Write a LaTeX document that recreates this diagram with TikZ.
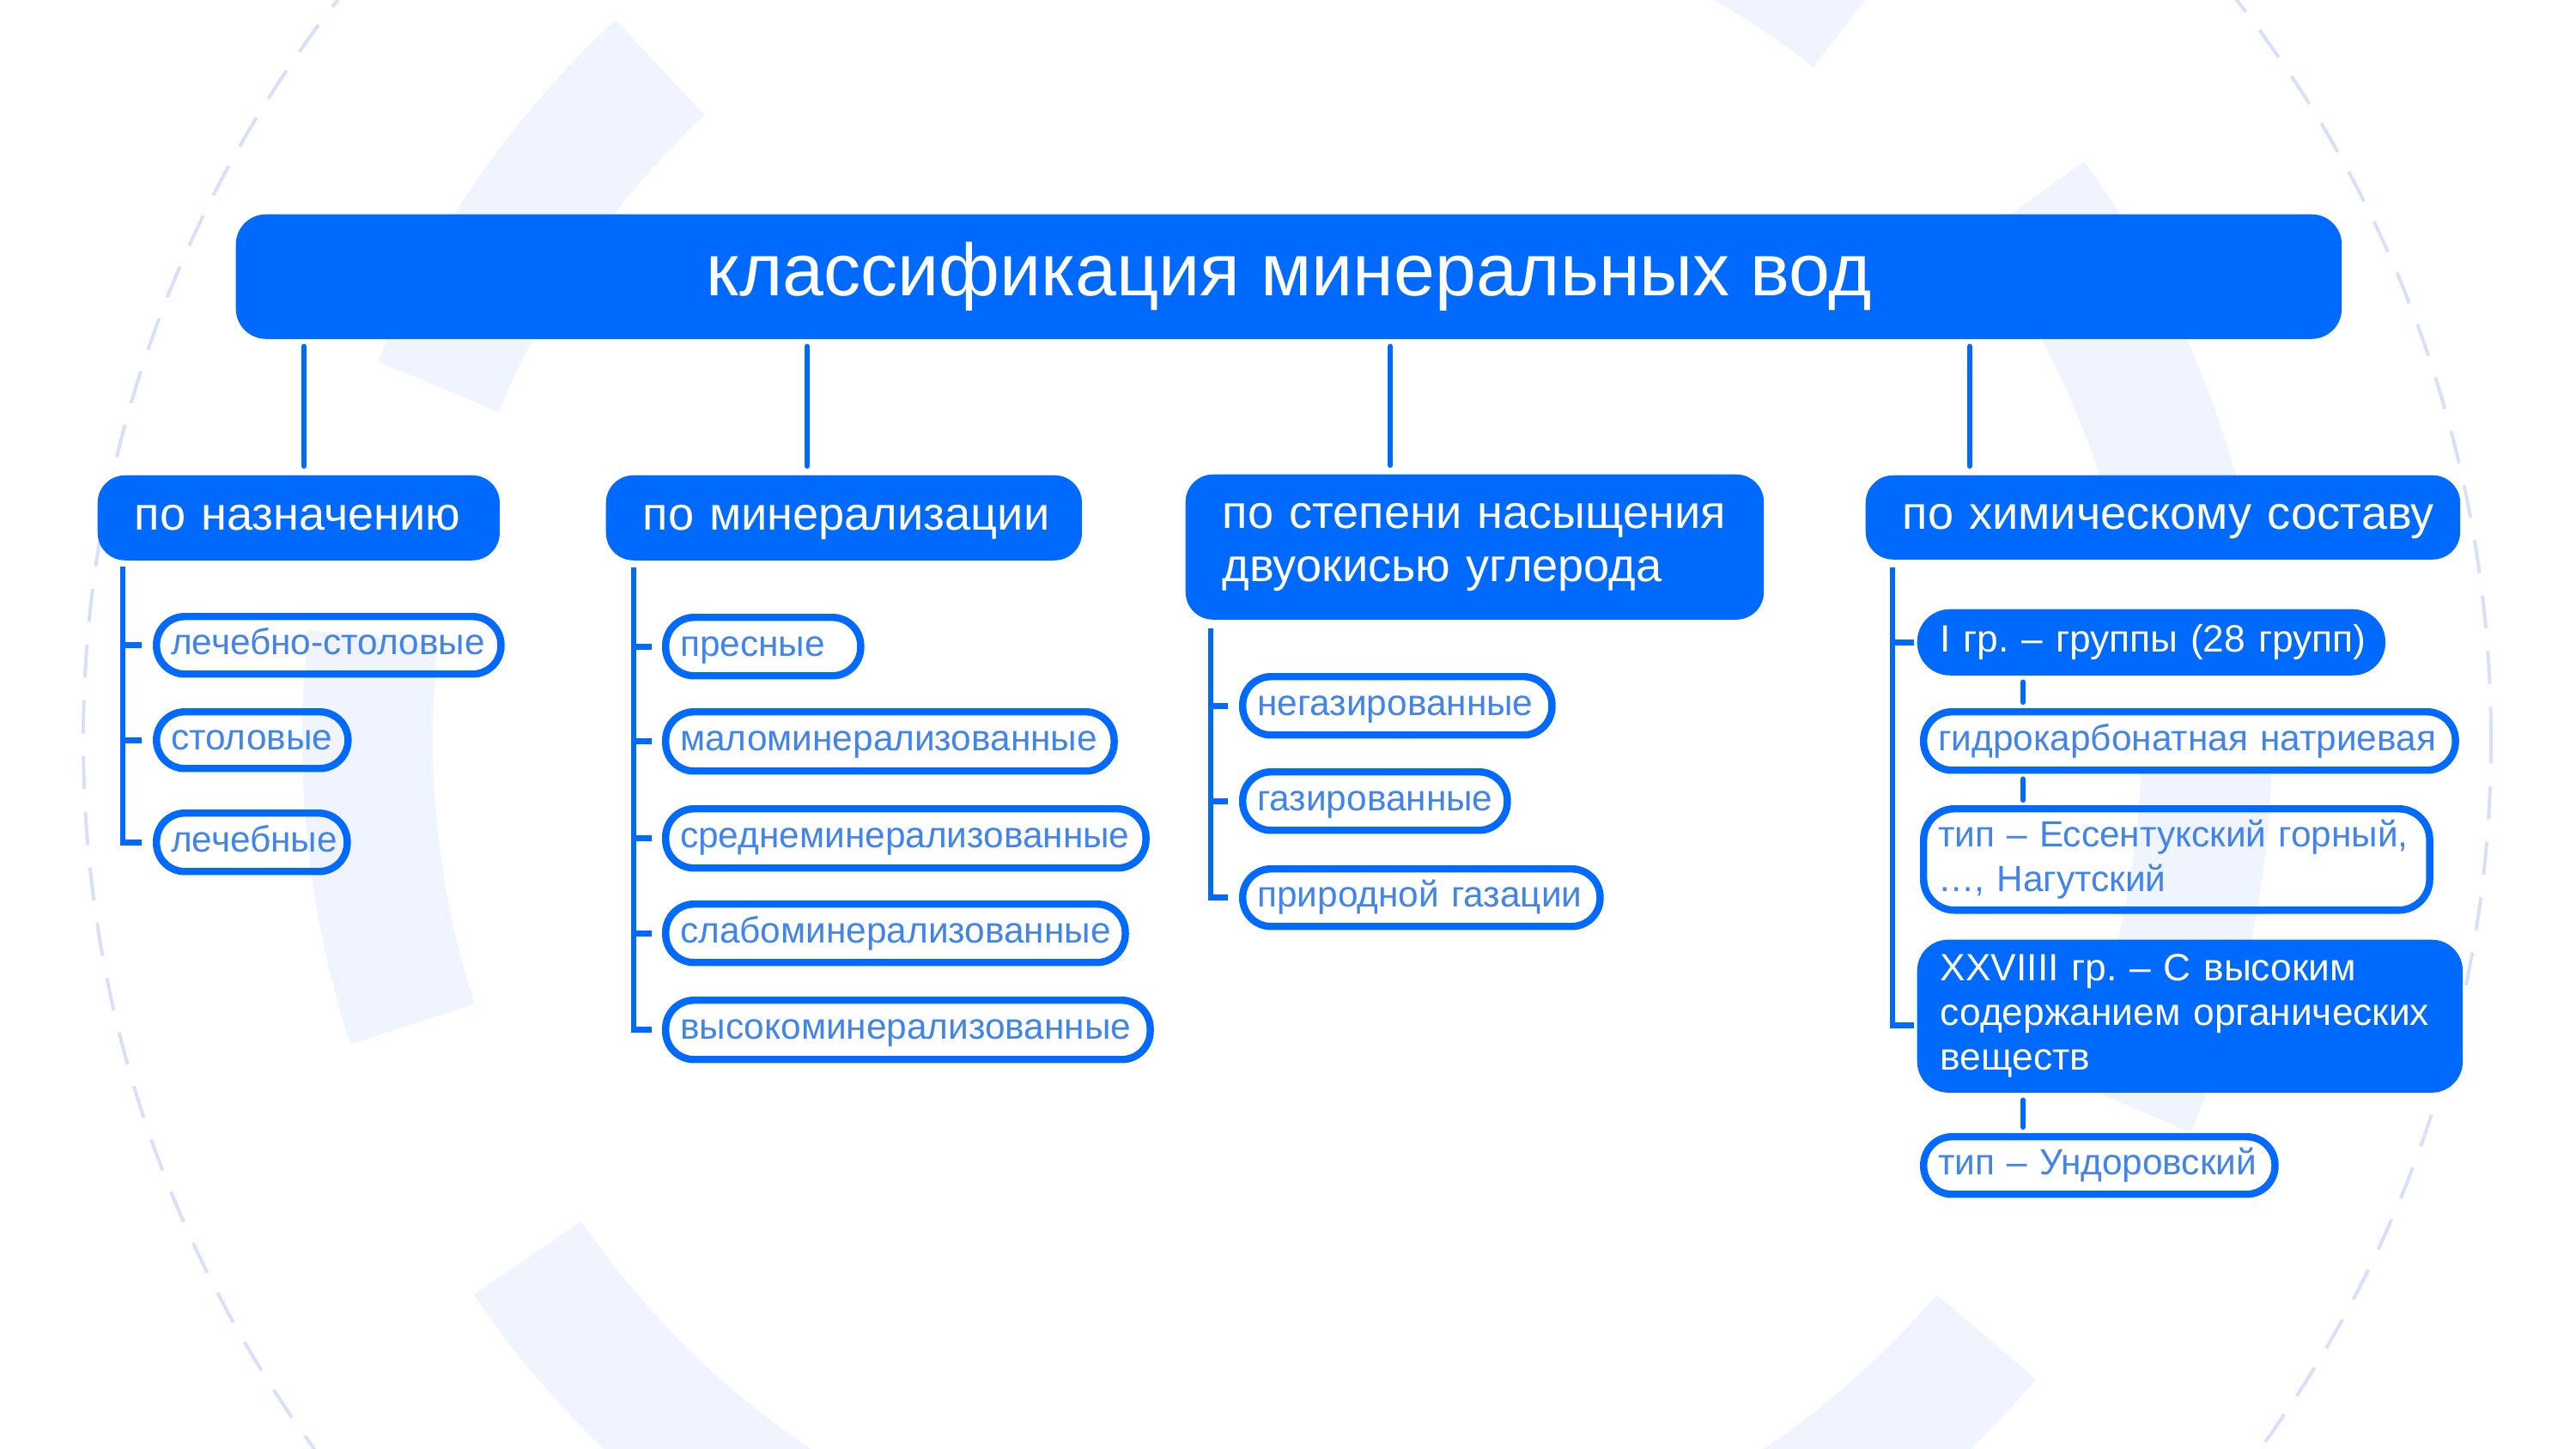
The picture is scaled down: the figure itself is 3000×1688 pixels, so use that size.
\documentclass[tikz,border=0pt]{standalone}
\usepackage{fontspec}
\setmainfont{Liberation Sans}
\usetikzlibrary{calc}
\frenchspacing
\definecolor{mainblue}{RGB}{0,106,255}
\definecolor{leaftext}{RGB}{64,132,236}
\definecolor{ringc}{RGB}{239,244,254}
\definecolor{dashc}{RGB}{214,224,248}
\newcommand\titlefont{\fontsize{24.5}{27}\selectfont}
\newcommand\catfont{\fontsize{15.4}{17.6}\selectfont}
\newcommand\leaffont{\fontsize{12.05}{14.8}\selectfont}
\newcommand\fillfont{\fontsize{12.6}{14.8}\selectfont}
\newcommand\ringseg[2]{%
  \fill[ringc] ($(1499,-862)+(#1:995)$) arc[start angle=#1, end angle=#2, radius=995]
    -- ($(1499,-862)+(#2:1147)$) arc[start angle=#2, end angle=#1, radius=1147] -- cycle;}
\begin{document}
\begin{tikzpicture}[x=0.01cm,y=0.01cm,
  boxbase/.style={anchor=north west, inner ysep=0pt, align=left},
  titlebox/.style={fill=mainblue, text=white, font=\titlefont, rounded corners=0.35cm,
    anchor=north west, align=center, text height=18.4pt, text depth=5.6pt, inner sep=0pt},
  catbox/.style={boxbase, fill=mainblue, text=white, font=\catfont, rounded corners=0.32cm, inner xsep=0.43cm},
  catone/.style={text height=11.55pt, text depth=3.5pt},
  leafbox/.style={boxbase, draw=mainblue, line width=2.4pt, text=leaftext, font=\leaffont,
    rounded corners=0.33cm, inner xsep=0.17cm},
  leaffill/.style={boxbase, fill=mainblue, text=white, font=\fillfont, inner xsep=0.27cm},
  leafone/.style={text height=9.1pt, text depth=2.8pt},
  conn/.style={draw=mainblue, line width=1.7pt, line cap=round},
  tree/.style={draw=mainblue, line width=1.9pt},
]
\useasboundingbox (0,0) rectangle (3000,-1688);
\fill[white] (0,0) rectangle (3000,-1688);
\begin{scope}
\clip (0,0) rectangle (3000,-1688);
\ringseg{13}{36}
\ringseg{52}{76}
\ringseg{92}{116}
\ringseg{133}{157.4}
\ringseg{173.6}{198}
\ringseg{214.3}{238.5}
\ringseg{254.8}{279}
\ringseg{295.3}{319.5}
\ringseg{336.5}{358}
\draw[dashc, line width=1.1pt, dash pattern=on 11pt off 7.5pt] (1499,-862) circle[radius=1402];
\end{scope}

% title
\node[titlebox, minimum width=24.51cm, minimum height=1.45cm] (title) at (274,-249) {классификация минеральных вод};

% categories
\node[catbox, catone, text width=3.82cm, minimum height=0.99cm] (c1) at (113,-553) {\mbox{по назначению}};
\node[catbox, catone, text width=4.68cm, minimum height=0.99cm] (c2) at (705,-553) {\mbox{по минерализации}};
\node[catbox, text width=5.87cm, minimum height=1.69cm] (c3) at (1380,-552) {\mbox{по степени насыщения}\\\mbox{двуокисью углерода}};
\node[catbox, catone, text width=6.06cm, minimum height=0.98cm] (c4) at (2172,-553) {\mbox{по химическому составу}};

% column 1
\node[leafbox, leafone, text width=3.67cm, minimum height=0.67cm] (l1a) at (178,-714) {\mbox{лечебно-столовые}};
\node[leafbox, leafone, text width=1.89cm, minimum height=0.66cm] (l1b) at (178,-825) {\mbox{столовые}};
\node[leafbox, leafone, text width=1.88cm, minimum height=0.68cm] (l1c) at (178,-943) {\mbox{лечебные}};

% column 2
\node[leafbox, leafone, text width=1.93cm, minimum height=0.68cm] (l2a) at (771,-715) {\mbox{пресные}};
\node[leafbox, leafone, text width=4.88cm, minimum height=0.69cm] (l2b) at (771,-825) {\mbox{маломинерализованные}};
\node[leafbox, leafone, text width=5.25cm, minimum height=0.69cm] (l2c) at (771,-938) {\mbox{среднеминерализованные}};
\node[leafbox, leafone, text width=5.01cm, minimum height=0.68cm] (l2d) at (771,-1049) {\mbox{слабоминерализованные}};
\node[leafbox, leafone, text width=5.30cm, minimum height=0.69cm] (l2e) at (771,-1161) {\mbox{высокоминерализованные}};

% column 3
\node[leafbox, leafone, text width=3.26cm, minimum height=0.68cm] (l3a) at (1443,-784) {\mbox{негазированные}};
\node[leafbox, leafone, text width=2.74cm, minimum height=0.68cm] (l3b) at (1443,-895) {\mbox{газированные}};
\node[leafbox, leafone, text width=3.82cm, minimum height=0.67cm] (l3c) at (1443,-1008) {\mbox{природной газации}};

% column 4
\node[leaffill, leafone, text width=4.91cm, minimum height=0.77cm, rounded corners=0.38cm] (f1) at (2232,-709) {\mbox{I гр. – группы (28 групп)}};
\node[leafbox, leafone, text width=5.85cm, minimum height=0.68cm] (l4a) at (2236,-825) {\mbox{гидрокарбонатная натриевая}};
\node[leafbox, text width=5.55cm, minimum height=1.18cm, rounded corners=0.36cm] (l4b) at (2236,-938) {\mbox{тип – Ессентукский горный,}\\\mbox{…, Нагутский}};
\node[leaffill, text width=5.81cm, minimum height=1.78cm, rounded corners=0.36cm] (f2) at (2232,-1094) {\mbox{XXVIIII гр. – С высоким}\\\mbox{содержанием органических}\\\mbox{веществ}};
\node[leafbox, leafone, text width=3.75cm, minimum height=0.67cm] (l4c) at (2236,-1320) {\mbox{тип – Ундоровский}};

% title to categories
\draw[conn] ($(title.south -| c1.north west)+(241,-8)$) -- ($(c1.north west)+(241,10)$);
\draw[conn] ($(title.south -| c2.north west)+(235,-8)$) -- ($(c2.north west)+(235,10)$);
\draw[conn] ($(title.south -| c3.north west)+(239,-8)$) -- ($(c3.north west)+(239,10)$);
\draw[conn] ($(title.south -| c4.north west)+(122,-8)$) -- ($(c4.north west)+(122,10)$);

% tree column 1
\coordinate (v1) at ($(c1.south west)+(30,-7)$);
\draw[tree] (v1) |- ($(l1c.west)+(-13,0)$);
\draw[tree] (v1 |- l1a.west) -- ($(l1a.west)+(-13,0)$);
\draw[tree] (v1 |- l1b.west) -- ($(l1b.west)+(-13,0)$);

% tree column 2
\coordinate (v2) at ($(c2.south west)+(33,-8)$);
\draw[tree] (v2) |- ($(l2e.west)+(-12,0)$);
\draw[tree] (v2 |- l2a.west) -- ($(l2a.west)+(-12,0)$);
\draw[tree] (v2 |- l2b.west) -- ($(l2b.west)+(-12,0)$);
\draw[tree] (v2 |- l2c.west) -- ($(l2c.west)+(-12,0)$);
\draw[tree] (v2 |- l2d.west) -- ($(l2d.west)+(-12,0)$);

% tree column 3
\coordinate (v3) at ($(c3.south west)+(30,-9)$);
\draw[tree] (v3) |- ($(l3c.west)+(-13,0)$);
\draw[tree] (v3 |- l3a.west) -- ($(l3a.west)+(-13,0)$);
\draw[tree] (v3 |- l3b.west) -- ($(l3b.west)+(-13,0)$);

% tree column 4
\coordinate (v4) at ($(c4.south west)+(32,-9)$);
\draw[tree] (v4) |- ($(f2.west)+(-3,-11)$);
\draw[tree] (v4 |- f1.west) -- ($(f1.west)+(-3,0)$);
\draw[conn] ($(f1.south west)+(124,-7)$) -- ($(l4a.north west)+(120,7)$);
\draw[conn] ($(l4a.south west)+(120,-6)$) -- ($(l4b.north west)+(120,6)$);
\draw[conn] ($(f2.south west)+(124,-8)$) -- ($(l4c.north west)+(120,7)$);
\end{tikzpicture}
\end{document}
